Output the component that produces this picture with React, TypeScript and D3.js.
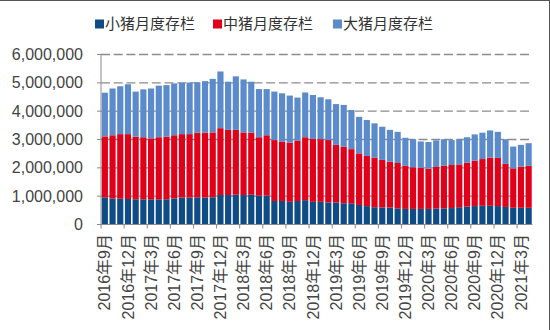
import React from "react";
import * as d3 from "d3";

const months: string[] = [];
for (let i = 0; i < 56; i++) {
  const y = 2016 + Math.floor((8 + i) / 12);
  const m = ((8 + i) % 12) + 1;
  months.push(`${y}年${m}月`);
}

const seriesNames = ["小猪月度存栏", "中猪月度存栏", "大猪月度存栏"];
const seriesColors = ["#0F4C85", "#E1001A", "#5B8BCB"];

// values in units of 10,000 head
const small = [
  96, 92, 91, 90, 89, 89, 89, 89, 89, 92, 95, 95, 96, 95, 96, 104, 104, 105, 104, 105,
  102, 102, 83, 83, 80, 83, 86, 80, 80, 78, 78, 75, 75, 69, 65, 61, 60, 60, 57, 55,
  55, 55, 55, 56, 57, 58, 61, 63, 65, 66, 66, 65, 62, 59, 59, 59,
];
const medium = [
  215, 223, 228, 229, 221, 219, 215, 219, 221, 223, 224, 224, 228, 229, 229, 236, 230, 229, 221, 219,
  206, 213, 215, 210, 209, 213, 222, 222, 221, 220, 203, 200, 191, 182, 177, 175, 168, 162, 160, 152,
  147, 145, 142, 147, 151, 152, 151, 155, 160, 165, 170, 170, 152, 139, 145, 148,
];
const large = [
  154, 165, 169, 176, 159, 169, 176, 182, 182, 183, 181, 182, 178, 182, 189, 200, 170, 189, 187, 180,
  170, 163, 171, 170, 166, 152, 158, 155, 148, 144, 144, 147, 138, 129, 127, 121, 117, 112, 110, 99,
  99, 93, 94, 94, 93, 88, 89, 90, 93, 93, 96, 92, 87, 77, 77, 80,
];
const yTicks = [0, 1000000, 2000000, 3000000, 4000000, 5000000, 6000000];

const W = 550;
const H = 330;
const left = 101;
const right = 532.5;
const top = 54.5;
const bottom = 224.5;
const axisColor = "#8a8a8a";
const font = "'Liberation Sans', Arial, 'Noto Sans CJK SC', sans-serif";

export default function App() {
  const x = d3.scaleBand<string>().domain(months).range([left, right]).paddingInner(0.2).paddingOuter(0.1);
  const y = d3.scaleLinear().domain([0, 6000000]).range([bottom, top]);

  const rows = months.map((m, i) => ({ m, s0: small[i] * 10000, s1: medium[i] * 10000, s2: large[i] * 10000 }));
  const stack = d3.stack<any>().keys(["s0", "s1", "s2"])(rows);
  const step = (right - left) / months.length;
  const fmt = d3.format(",");

  const legendX = [95, 213, 333];

  return (
    <svg width={W} height={H} style={{ position: "absolute", left: 0, top: 0, background: "#fff" }} fontFamily={font}>
      <rect x={0} y={0} width={W} height={H} fill="#fff" />
      <line x1={0} x2={W} y1={0.5} y2={0.5} stroke="#555" />
      <line x1={W - 0.5} x2={W - 0.5} y1={0} y2={H} stroke="#555" />
      {/* legend */}
      {seriesNames.map((n, i) => (
        <g key={n}>
          <rect x={legendX[i]} y={19.5} width={9} height={9} fill={seriesColors[i]} />
          <text x={legendX[i] + 10} y={29} fontSize={15} fill="#333">
            {n}
          </text>
        </g>
      ))}
      {/* gridlines */}
      {yTicks.slice(1).map((t) => (
        <line key={t} x1={left} x2={right} y1={y(t)} y2={y(t)} stroke="#8c8c8c" strokeWidth={1.3} strokeDasharray="9,3.7" />
      ))}
      {/* bars */}
      {stack.map((layer, li) => (
        <g key={li} fill={seriesColors[li]}>
          {layer.map((d, i) => (
            <rect key={i} x={x(months[i])} width={x.bandwidth()} y={y(d[1])} height={y(d[0]) - y(d[1])} />
          ))}
        </g>
      ))}
      {/* y axis */}
      <line x1={left} x2={left} y1={top} y2={bottom} stroke={axisColor} strokeWidth={1} />
      {yTicks.map((t) => (
        <g key={t}>
          <line x1={left - 4} x2={left} y1={y(t)} y2={y(t)} stroke={axisColor} />
          <text x={83} y={y(t)} dy="0.35em" textAnchor="end" fontSize={16} fill="#444">
            {fmt(t)}
          </text>
        </g>
      ))}
      {/* x axis */}
      <line x1={left} x2={right} y1={bottom} y2={bottom} stroke={axisColor} strokeWidth={1} />
      {months.map((m, i) =>
        i % 3 === 0 ? (
          <g key={m}>
            <line x1={left + i * step} x2={left + i * step} y1={bottom} y2={bottom + 4} stroke={axisColor} />
            <text
              transform={`translate(${(x(m) as number) + x.bandwidth() / 2},234) rotate(-90)`}
              dy="0.35em"
              textAnchor="end"
              fontSize={16}
              fill="#444"
            >
              {m}
            </text>
          </g>
        ) : null
      )}
    </svg>
  );
}
